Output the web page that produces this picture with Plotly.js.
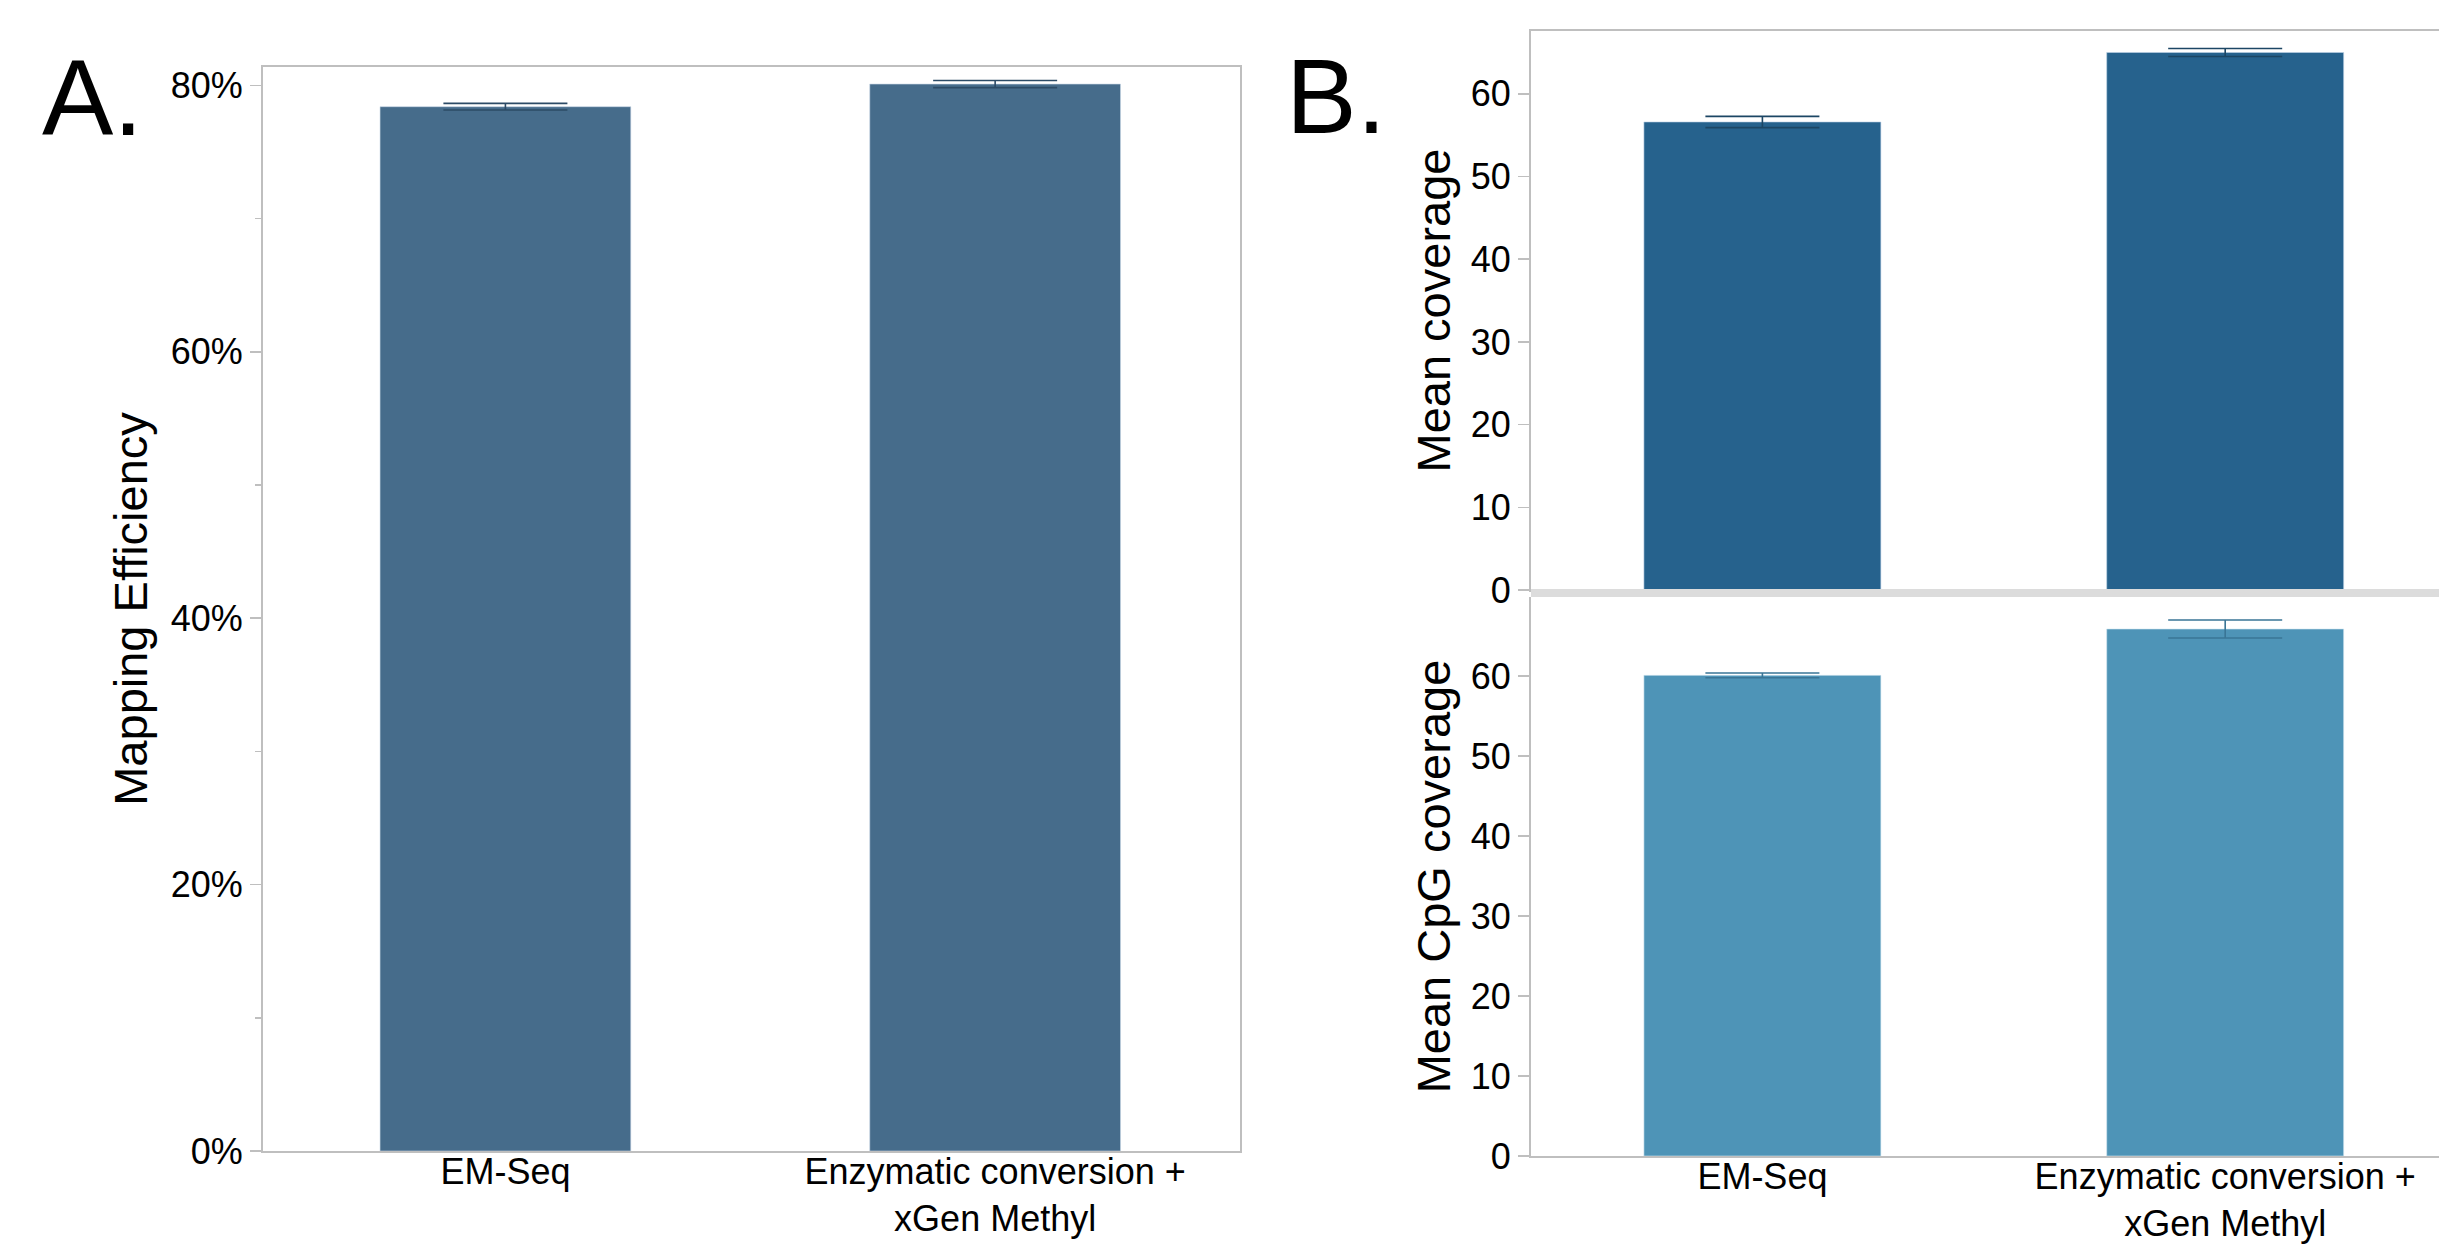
<!DOCTYPE html>
<html>
<head>
<meta charset="utf-8">
<script src="https://cdn.plot.ly/plotly-3.0.1.min.js"></script>
<style>html,body{margin:0;padding:0;background:#fff;}#chart{width:2439px;height:1246px;}</style>
</head>
<body>
<div id="chart"></div>
<script>
// ---- data ----
var categories = ["EM-Seq", "Enzymatic conversion +<br>xGen Methyl"];
var mappingEfficiency = [78.4, 80.1];
var mappingEfficiencyErr = [0.25, 0.27];
var meanCoverage = [56.6, 65.0];
var meanCoverageErr = [0.68, 0.48];
var meanCpGCoverage = [60.1, 65.9];
var meanCpGCoverageErr = [0.29, 1.12];
var yTicksA = [0, 20, 40, 60, 80];
var yTickLabelsA = ["0%", "20%", "40%", "60%", "80%"];

var W = 2439, H = 1246;
function px(x){ return x / W; }
function py(y){ return (H - y) / H; }

var FONT = "Arial, 'Liberation Sans', sans-serif";
var frameColor = "#bfbfbf";

var traces = [
  {
    type: "bar", x: categories, y: mappingEfficiency, xaxis: "x", yaxis: "y",
    width: 0.512,
    marker: {color: "#466c8b", line: {color: "rgba(200,215,230,0.6)", width: 1}},
    error_y: {type: "data", array: mappingEfficiencyErr, visible: true, color: "#2c4b66", thickness: 1.6, width: 62},
    hoverinfo: "skip", showlegend: false
  },
  {
    type: "bar", x: categories, y: meanCoverage, xaxis: "x2", yaxis: "y2",
    width: 0.512,
    marker: {color: "#26628d", line: {color: "rgba(190,210,230,0.6)", width: 1}},
    error_y: {type: "data", array: meanCoverageErr, visible: true, color: "#1c4664", thickness: 1.6, width: 57},
    hoverinfo: "skip", showlegend: false
  },
  {
    type: "bar", x: categories, y: meanCpGCoverage, xaxis: "x3", yaxis: "y3",
    width: 0.512,
    marker: {color: "#4e94b7", line: {color: "rgba(210,230,240,0.6)", width: 1}},
    error_y: {type: "data", array: meanCpGCoverageErr, visible: true, color: "#3a7596", thickness: 1.6, width: 57},
    hoverinfo: "skip", showlegend: false
  }
];

var tickFont = {family: FONT, size: 36, color: "#000"};
var titleFont = {family: FONT, size: 47, color: "#000"};

var layout = {
  width: W, height: H,
  margin: {l: 0, r: 0, t: 0, b: 0},
  paper_bgcolor: "#fff", plot_bgcolor: "#fff",
  font: {family: FONT, color: "#000"},
  showlegend: false,
  xaxis: {
    domain: [px(263), px(1240)], anchor: "y",
    type: "category", range: [-0.495, 1.5],
    showline: true, mirror: true, linecolor: frameColor, linewidth: 2,
    ticks: "", tickfont: tickFont, showgrid: false, zeroline: false,
    ticklabelstandoff: -12
  },
  yaxis: {
    domain: [py(1151), py(67)], anchor: "x",
    range: [0, 81.38],
    tickvals: yTicksA, ticktext: yTickLabelsA,
    ticks: "outside", ticklen: 11, tickwidth: 1.5, tickcolor: frameColor,
    minor: {tickvals: [10, 30, 50, 70], ticks: "outside", ticklen: 6, tickwidth: 1.5, tickcolor: frameColor},
    showline: true, mirror: true, linecolor: frameColor, linewidth: 2,
    tickfont: tickFont, showgrid: false, zeroline: false,
    title: {text: "Mapping Efficiency", font: titleFont, standoff: 8}
  },
  xaxis2: {
    domain: [px(1531), 1], anchor: "y2",
    type: "category", range: [-0.5, 1.462],
    showline: true, mirror: true, linecolor: frameColor, linewidth: 2,
    ticks: "", showticklabels: false, showgrid: false, zeroline: false
  },
  yaxis2: {
    domain: [py(590), py(31)], anchor: "x2",
    range: [0, 67.6], dtick: 10,
    ticks: "outside", ticklen: 11, tickwidth: 1.5, tickcolor: frameColor,
    showline: true, linecolor: frameColor, linewidth: 2,
    tickfont: tickFont, showgrid: false, zeroline: false,
    title: {text: "Mean coverage", font: titleFont, standoff: 5}
  },
  xaxis3: {
    domain: [px(1531), 1], anchor: "y3",
    type: "category", range: [-0.5, 1.462],
    showline: true, linecolor: frameColor, linewidth: 2,
    ticks: "", tickfont: tickFont, showgrid: false, zeroline: false,
    ticklabelstandoff: -12
  },
  yaxis3: {
    domain: [py(1156), py(597)], anchor: "x3",
    range: [0, 69.9], dtick: 10,
    ticks: "outside", ticklen: 11, tickwidth: 1.5, tickcolor: frameColor,
    showline: true, linecolor: frameColor, linewidth: 2,
    tickfont: tickFont, showgrid: false, zeroline: false,
    title: {text: "Mean CpG coverage", font: titleFont, standoff: 5}
  },
  shapes: [
    {type: "rect", xref: "paper", yref: "paper", x0: px(1531), x1: 1, y0: py(597), y1: py(589),
     fillcolor: "#dcdcdc", line: {width: 0}, layer: "above"}
  ],
  annotations: [
    {text: "A.", xref: "paper", yref: "paper", x: px(40), y: py(98), xanchor: "left", yanchor: "middle",
     showarrow: false, font: {family: FONT, size: 107, color: "#000"}},
    {text: "B.", xref: "paper", yref: "paper", x: px(1284), y: py(96), xanchor: "left", yanchor: "middle",
     showarrow: false, font: {family: FONT, size: 106, color: "#000"}}
  ]
};

Plotly.newPlot("chart", traces, layout, {displayModeBar: false, staticPlot: true});
</script>
</body>
</html>
